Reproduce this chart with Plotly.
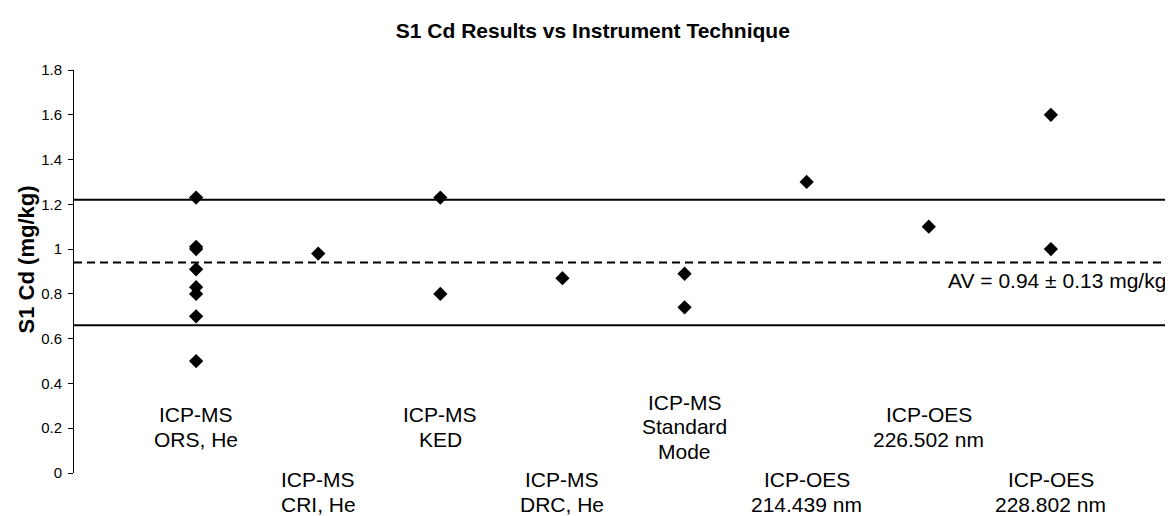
import plotly.graph_objects as go

# ---- data ----
categories = [
    "ICP-MS<br>ORS, He",
    "ICP-MS<br>CRI, He",
    "ICP-MS<br>KED",
    "ICP-MS<br>DRC, He",
    "ICP-MS<br>Standard<br>Mode",
    "ICP-OES<br>214.439 nm",
    "ICP-OES<br>226.502 nm",
    "ICP-OES<br>228.802 nm",
]
ors_he = [1.23, 1.01, 1.00, 0.91, 0.83, 0.80, 0.70, 0.50]
cri_he = [0.98]
ked = [1.23, 0.80]
drc_he = [0.87]
standard_mode = [0.89, 0.74]
oes_214 = [1.30]
oes_226 = [1.10]
oes_228 = [1.60, 1.00]
series_values = [ors_he, cri_he, ked, drc_he, standard_mode, oes_214, oes_226, oes_228]

assigned_value = 0.94
upper_limit = 1.22
lower_limit = 0.66
av_label = "AV = 0.94 ± 0.13 mg/kg"
y_ticks = [0, 0.2, 0.4, 0.6, 0.8, 1.0, 1.2, 1.4, 1.6, 1.8]

FONT = "Liberation Sans, Arial, sans-serif"

fig = go.Figure()

x_min, x_max = 0, len(categories) + 1

# reference lines
for val, dash in [(upper_limit, "solid"), (lower_limit, "solid"), (assigned_value, "8px,5px")]:
    fig.add_trace(go.Scatter(
        x=[x_min, x_max], y=[val, val], mode="lines",
        line=dict(color="black", width=2, dash=dash),
        hoverinfo="skip", showlegend=False, cliponaxis=False,
    ))

# data points
xs, ys = [], []
for i, vals in enumerate(series_values):
    for v in vals:
        xs.append(i + 1)
        ys.append(v)
fig.add_trace(go.Scatter(
    x=xs, y=ys, mode="markers",
    marker=dict(symbol="diamond", size=11, color="black", line=dict(width=0)),
    showlegend=False,
))

# category labels (alternating rows), one annotation per text line
LINE_GAP = 24.5
for i, label in enumerate(categories):
    upper_row = (i % 2 == 0)
    row_y = 0.1147 if upper_row else -0.0476
    lines = label.split("<br>")
    n = len(lines)
    for j, line in enumerate(lines):
        fig.add_annotation(
            x=i + 1, y=row_y, xref="x", yref="paper", text=line, showarrow=False,
            yshift=-(j - (n - 1) / 2) * LINE_GAP,
            font=dict(family=FONT, size=21, color="black"),
            xanchor="center", yanchor="middle",
        )

# AV label
fig.add_annotation(
    x=1, xref="paper", y=0.862, yref="y", text=av_label, showarrow=False,
    xanchor="right", yanchor="middle", xshift=-5,
    font=dict(family=FONT, size=21, color="black"),
)

# y-axis title
fig.add_annotation(
    x=0, xref="paper", xshift=-48, y=0.53, yref="paper",
    text="<b>S1 Cd (mg/kg)</b>", showarrow=False, textangle=-90,
    xanchor="center", yanchor="middle",
    font=dict(family=FONT, size=22, color="black"),
)

fig.update_layout(
    width=1165, height=508,
    paper_bgcolor="white", plot_bgcolor="white",
    margin=dict(l=66, r=0, t=62, b=43),
    title=dict(
        text="<b>S1 Cd Results vs Instrument Technique</b>",
        x=0.502, xanchor="center", y=0.955, yanchor="middle",
        font=dict(family=FONT, size=21, color="black"),
    ),
    xaxis=dict(range=[x_min, x_max], visible=False),
    yaxis=dict(
        range=[0, 1.8], tickvals=y_ticks,
        ticktext=[("%g" % t) for t in y_ticks],
        showgrid=False, zeroline=False,
        showline=True, linecolor="black", linewidth=1,
        ticks="outside", ticklen=5, tickcolor="black",
        ticklabelstandoff=3,
        tickfont=dict(family=FONT, size=15, color="black"),
    ),
    showlegend=False,
)

fig.write_html("out.html")
